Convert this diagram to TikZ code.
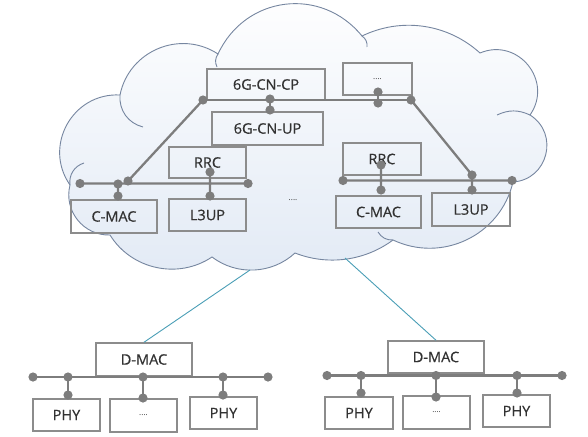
\documentclass[tikz,border=0pt]{standalone}
\usepackage{fontspec}
\setmainfont{Open Sans}
\newfontfamily\lblfont{Open Sans}[FakeBold=0.6]
\definecolor{boxgray}{RGB}{140,140,140}
\definecolor{busgray}{RGB}{125,125,125}
\definecolor{txtgray}{RGB}{50,50,50}
\definecolor{cloudline}{RGB}{118,134,160}
\definecolor{cloudbot}{RGB}{226,234,245}
\definecolor{linkteal}{RGB}{74,158,182}

\begin{document}
\begin{tikzpicture}[x=1pt,y=1pt]
\tikzset{blk/.style={draw=boxgray,line width=1.5pt,inner sep=0pt,minimum height=32pt,text=txtgray,font=\lblfont\fontsize{14.5}{16}\selectfont},
  etc/.style={text=txtgray,font=\fontsize{8}{9}\selectfont},
  bus/.style={draw=busgray,line width=2.3pt},
  rim/.style={draw=cloudline,line width=0.9pt}}
\useasboundingbox (0,-436) rectangle (588,0);

% cloud
\path[rim,top color=white,bottom color=cloudbot] (70,-185) to[bend left=64,looseness=1.18] (120,-95)
  to[bend left=56,looseness=1.09] (218,-54) to[bend left=58,looseness=1.14] (362,-36)
  to[bend left=34,looseness=0.94] (480,-53) to[bend left=74,looseness=1.33] (530,-115)
  to[bend left=72,looseness=1.3] (513,-182) to[bend left=51,looseness=1.05] (393,-240)
  to[bend left=29,looseness=0.91] (295,-253) to[bend left=40,looseness=0.96] (212,-257)
  to[bend left=46] (110,-235) to[bend left=53,looseness=1.06] (70,-185) -- cycle;
\draw[rim] (70,-185) to[bend left=40] (84,-163) (143,-127) to[bend left=40] (120,-95)
  (217,-67) to[bend left=30] (218,-54) (362,-36) to[bend left=30] (367,-47)
  (497,-115) to[bend left=25] (530,-115) (393,-240) to[bend left=30] (378,-232);

\node[blk,minimum width=118pt,minimum height=31pt] (cp) at (266,-84.5) {6G-CN-CP};
\node[blk,etc,minimum width=69pt] (more) at (377.5,-79) {....};
\node[blk,minimum width=111pt,minimum height=33pt] (up) at (267.5,-128.5) {6G-CN-UP};
\node[blk,minimum width=77pt,minimum height=31pt] (rrcL) at (207.5,-162.5) {RRC};
\node[blk,minimum width=86pt,minimum height=33pt] (cmacL) at (114,-216.5) {C-MAC};
\node[blk,minimum width=77pt] (l3upL) at (207.5,-215) {L3UP};
\node[blk,minimum width=78pt] (rrcR) at (382,-159) {RRC};
\node[blk,minimum width=85pt] (cmacR) at (378.5,-212) {C-MAC};
\node[blk,minimum width=78pt,minimum height=33pt] (l3upR) at (471,-209.5) {L3UP};
\node[etc] (gap) at (293,-200) {....};

\node[blk,minimum width=96pt,minimum height=33pt] (dmacL) at (144,-359.5) {D-MAC};
\node[blk,minimum width=67pt] (phyLa) at (66.5,-415) {PHY};
\node[blk,etc,minimum width=67pt,minimum height=33pt] (moreL) at (143.5,-415.5) {....};
\node[blk,minimum width=67pt] (phyLb) at (223.5,-413) {PHY};
\node[blk,minimum width=96pt] (dmacR) at (436,-357) {D-MAC};
\node[blk,minimum width=68pt] (phyRa) at (359,-413) {PHY};
\node[blk,etc,minimum width=67pt,minimum height=33pt] (moreR) at (436.5,-412.5) {....};
\node[blk,minimum width=67pt] (phyRb) at (516.5,-411) {PHY};

% links out of the cloud
\coordinate (cb1) at (250,-270);
\coordinate (cb2) at (345,-258);
\draw[linkteal,line width=0.9pt] (cb1) -- (dmacL.north) (cb2) -- (dmacR.north);

% buses
\coordinate (t1) at (203,-100); \coordinate (t2) at (411,-100);
\coordinate (cpd) at (270,-99); \coordinate (upd) at (270,-110);
\coordinate (mo1) at (378,-92); \coordinate (mo2) at (378,-103);
\coordinate (l1) at (80,-183.5); \coordinate (l2) at (248,-183.5); \coordinate (ld) at (128,-181);
\coordinate (cm1) at (118,-184); \coordinate (cm2) at (118,-196);
\coordinate (rr1) at (210,-172); \coordinate (rr2) at (210,-196);
\coordinate (r1) at (343,-180.5); \coordinate (r2) at (512,-180.5);
\coordinate (rd) at (472,-175); \coordinate (rd2) at (472,-190);
\coordinate (rc1) at (381,-165); \coordinate (rc2) at (381,-190);
\coordinate (bl1) at (33,-377); \coordinate (bl2) at (268,-377);
\coordinate (br1) at (327,-375.5); \coordinate (br2) at (562,-375.5);

\draw[bus] (t1) -- (t2) (cpd) -- (upd) (mo1) -- (mo2);
\draw[bus] (t1) -- (ld) (l1) -- (l2) (cm1) -- (cm2) (rr1) -- (rr2);
\draw[bus] (t2) -- (rd) -- (rd2) (r1) -- (r2) (rc1) -- (rc2);
\draw[bus] (bl1) -- (bl2) (br1) -- (br2);
\foreach \n/\x/\t/\b in {pa/68/377/395,pb/143/377/398,pc/223/377/395,qa/361/375.5/393,qb/436/375.5/397,qc/517/375.5/393}{
  \coordinate (\n1) at (\x,-\t);
  \coordinate (\n2) at (\x,-\b);
  \draw[bus] (\n1) -- (\n2);
}
\foreach \p in {t1,t2,cpd,upd,mo1,mo2,l1,l2,ld,cm1,cm2,rr1,rr2,r1,r2,rd,rd2,rc1,rc2,bl1,bl2,br1,br2,pa1,pa2,pb1,pb2,pc1,pc2,qa1,qa2,qb1,qb2,qc1,qc2}
  \fill[busgray] (\p) circle (4.6pt);

\end{tikzpicture}
\end{document}
